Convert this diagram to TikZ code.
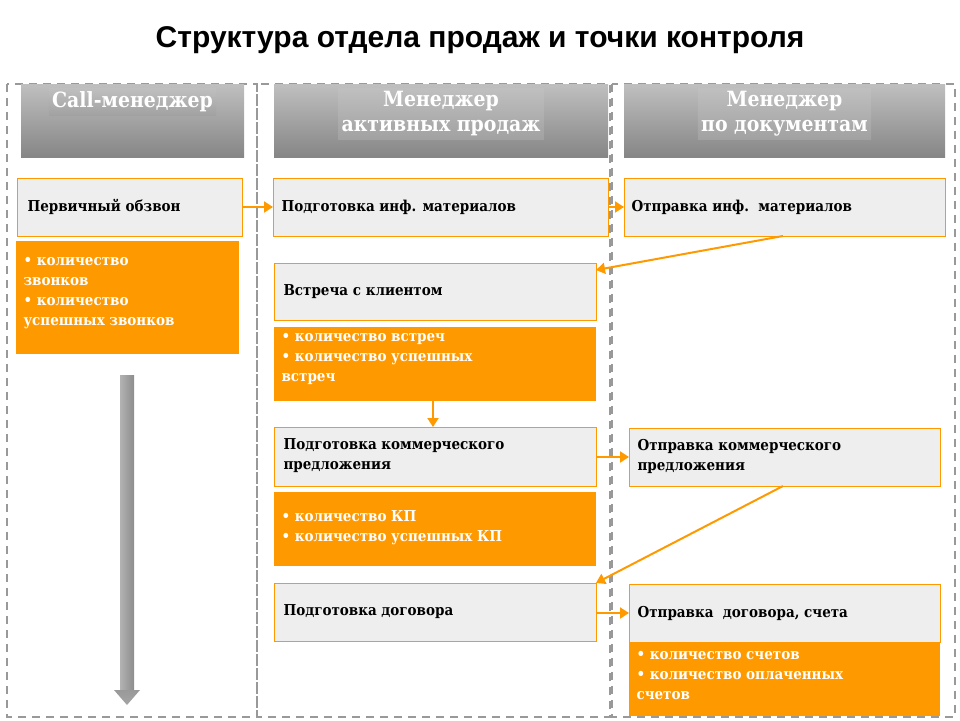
\documentclass[tikz,border=0pt]{standalone}
\usepackage{fontspec}
\setmainfont{DejaVu Serif Condensed}
\newfontfamily\titlefont{Liberation Sans}
\usetikzlibrary{arrows.meta,shadings}
\definecolor{org}{HTML}{FF9900}
\definecolor{lgray}{HTML}{EEEEEE}
\begin{document}
\begin{tikzpicture}[x=1pt,y=-1pt,
  col/.style={draw=gray!80,dashed,line width=2pt,dash pattern=on 8pt off 6pt},
  hdr/.style={top color=gray!50,bottom color=gray!95!black!70,draw=none,text=white,font=\fontsize{21}{25}\selectfont\bfseries,align=center},
  gbox/.style={fill=lgray,draw=org,line width=0.8pt},
  obox/.style={fill=org,draw=none},
  gtxt/.style={anchor=west,align=left,font=\fontsize{15}{20}\selectfont\bfseries},
  otxt/.style={anchor=north west,align=left,text=white,font=\fontsize{15}{20}\selectfont\bfseries},
  arr/.style={draw=org,line width=2pt,-{Triangle[length=9pt,width=11pt]}}]
\useasboundingbox (0,0) rectangle (960,720);
\node[font=\titlefont\fontsize{30}{34}\selectfont\bfseries] (title) at (480,40) {Структура отдела продаж и точки контроля};
\draw[col] (7,84) rectangle (257,717);
\draw[col] (257,84) rectangle (610,717);
\draw[col] (612,84) rectangle (955,717);
% headers
\shade[top color=gray!50,bottom color=gray!95] (21,84) rectangle (244,157);
\shade[top color=gray!50,bottom color=gray!95] (274,84) rectangle (608,157);
\shade[top color=gray!50,bottom color=gray!95] (624,84) rectangle (945,157);
\node[hdr,anchor=north] (h1) at (132.5,88) {Call-менеджер};
\node[hdr,anchor=north] (h2) at (441,88) {Менеджер\\активных продаж};
\node[hdr,anchor=north] (h3) at (784.5,88) {Менеджер\\по документам};
% boxes
\draw[gbox] (17,178) rectangle (242,236); \coordinate (b1e) at (242,207);
\node[gtxt] (b1) at (24,207) {Первичный обзвон};
\fill[obox] (16,241) rectangle (239,354);
\node[otxt] (o1) at (20,254) {• количество\\звонков\\• количество\\успешных звонков};
\draw[gbox] (273,178) rectangle (608,236); \coordinate (b2w) at (273,207); \coordinate (b2e) at (608,207);
\node[gtxt] (b2) at (278,207) {Подготовка инф. материалов};
\draw[gbox] (624,178) rectangle (945,236); \coordinate (b3w) at (624,207); \coordinate (b3s) at (783,236);
\node[gtxt] (b3) at (628,207) {Отправка инф.\ \ материалов};
\draw[gbox] (274,263) rectangle (596,320); \coordinate (b4e) at (596,270);
\node[gtxt] (b4) at (280,292) {Встреча с клиентом};
\fill[obox] (274,327) rectangle (596,401); \coordinate (o2s) at (433,401);
\node[otxt] (o2) at (278,330) {• количество встреч\\• количество успешных\\встреч};
\draw[gbox] (274,427) rectangle (596,486); \coordinate (b5n) at (433,427); \coordinate (b5e) at (596,457);
\node[gtxt] (b5) at (280,456) {Подготовка коммерческого\\предложения};
\fill[obox] (274,492) rectangle (596,566);
\node[otxt] (o3) at (278,507) {• количество КП\\• количество успешных КП};
\draw[gbox] (274,583) rectangle (596,641); \coordinate (b6ne) at (596,583); \coordinate (b6e) at (596,613);
\node[gtxt] (b6) at (280,612) {Подготовка договора};
\draw[gbox] (629,428) rectangle (940,486); \coordinate (b7w) at (629,457); \coordinate (b7s) at (783,486);
\node[gtxt] (b7) at (634,456) {Отправка коммерческого\\предложения};
\draw[gbox] (629,584) rectangle (940,642); \coordinate (b8w) at (629,613);
\node[gtxt] (b8) at (634,613) {Отправка\ \ договора, счета};
\fill[obox] (629,643) rectangle (940,716);
\node[otxt] (o4) at (633,648) {• количество счетов\\• количество оплаченных\\счетов};
% arrows
\draw[arr] (b1e) -- (b2w);
\draw[arr] (b2e) -- (b3w);
\draw[arr] (b3s) -- (b4e);
\draw[arr] (o2s) -- (b5n);
\draw[arr] (b5e) -- (b7w);
\draw[arr] (b7s) -- (b6ne);
\draw[arr] (b6e) -- (b8w);
% gray arrow
\shade[left color=gray!60,right color=gray!90,middle color=gray!75] (120,375) rectangle (134,692);
\shade[top color=gray!80,bottom color=gray!70] (114,690) -- (140,690) -- (127,705) -- cycle;
\coordinate (ga) at (127,375);
\end{tikzpicture}
\end{document}
